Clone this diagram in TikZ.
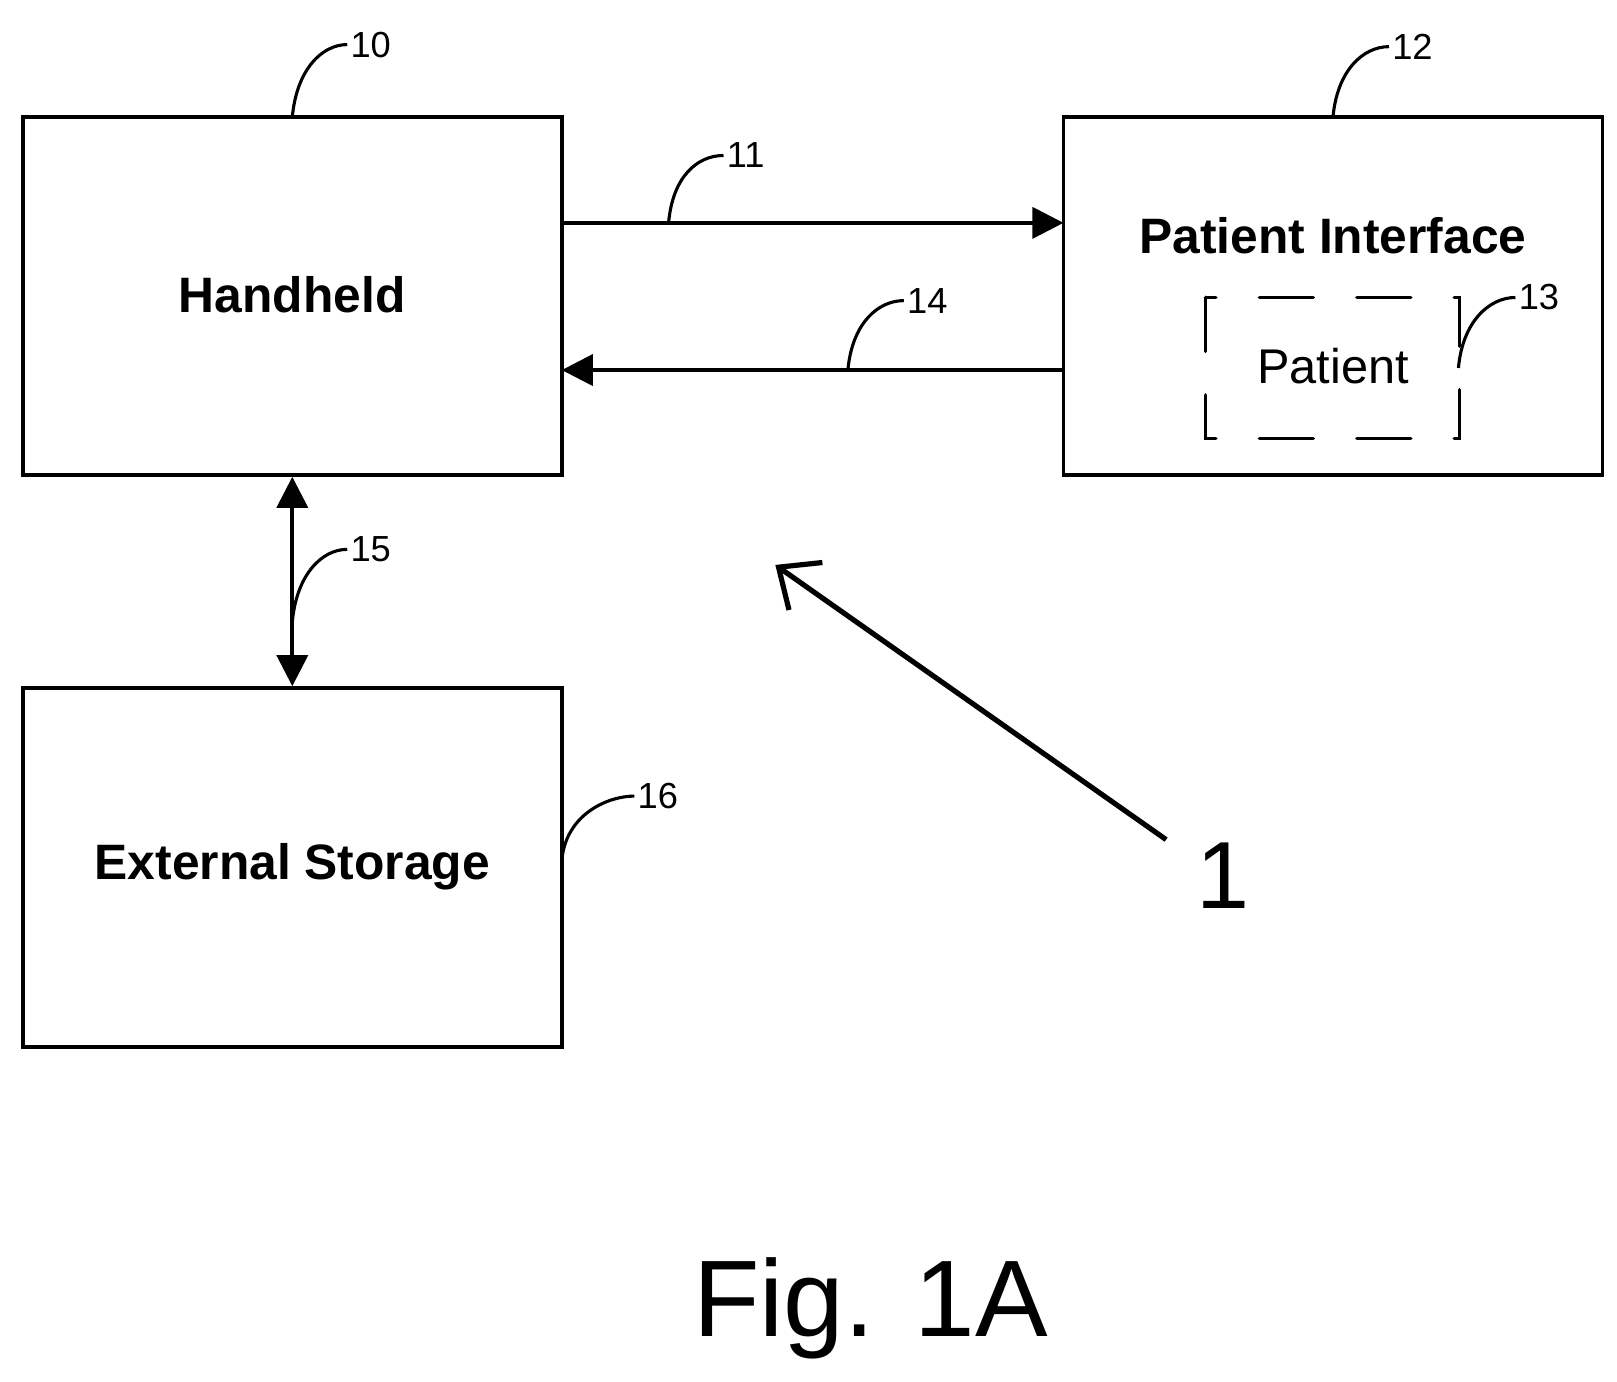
\documentclass[tikz,border=0pt]{standalone}
\usepackage{fontspec}
\setmainfont{Liberation Sans}
\usetikzlibrary{arrows.meta,calc}
\begin{document}
\begin{tikzpicture}[x=1pt,y=-1pt,
 box/.style={draw,line width=3.5pt},
 lbl/.style={font=\fontsize{48}{50}\selectfont\bfseries},
 num/.style={font=\fontsize{35}{38}\selectfont,anchor=west,inner sep=0pt},
 lead/.style={line width=3pt},
 conn/.style={line width=3.5pt,-{Triangle[length=30pt,width=30pt]}}]
\useasboundingbox (0,0) rectangle (1560,1333);
\draw[box] (22,113) rectangle (542,458);
\node[lbl] (hh) at (282,284) {Handheld};
\draw[box] (1026,113) rectangle (1546,458);
\node[lbl] (pi) at (1286,227) {Patient Interface};
\draw[box,dash pattern=on 52pt off 42pt,line cap=round] (1163,287) rectangle (1408,423);
\node[font=\fontsize{47}{50}\selectfont] (pt) at (1286,353) {Patient};
\draw[box] (22,664) rectangle (542,1010);
\node[lbl] (es) at (282,836) {External Storage};
\coordinate (a1) at (542,215); \coordinate (b1) at (1026,215);
\draw[conn] (a1) -- (b1);
\coordinate (a2) at (1026,357); \coordinate (b2) at (542,357);
\draw[conn] (a2) -- (b2);
\coordinate (a3) at (282,460); \coordinate (b3) at (282,662);
\draw[conn,{Triangle[length=30pt,width=30pt]}-{Triangle[length=30pt,width=30pt]}] (a3) -- (b3);
\coordinate (s1) at (1125,810); \coordinate (e1) at (748,545);
\draw[line width=5pt,-{Straight Barb[length=32pt,width=56pt]}] (s1) -- (e1);
\node[font=\fontsize{92}{95}\selectfont] (one) at (1180,845) {1};
\node[font=\fontsize{105}{110}\selectfont] (fig) at (840,1262) {Fig. 1A};
% leaders
\foreach \x/\y/\ex/\ey/\t [count=\i] in {282/113/335/43/10, 645/215/698/150/11, 1286/113/1340/45/12, 1407/355/1462/287/13, 818/357/872/290/14, 282/600/335/530/15, 542/830/612/768/16}{
 \coordinate (p\i) at (\x,\y);
 \coordinate (q\i) at (\ex,\ey);
 \draw[lead] (p\i) .. controls ($(p\i)+(4,-45)$) and ($(q\i)+(-25,0)$) .. (q\i);
 \node[num] (n\i) at ($(q\i)+(3,0)$) {\t};
}
\end{tikzpicture}
\end{document}
